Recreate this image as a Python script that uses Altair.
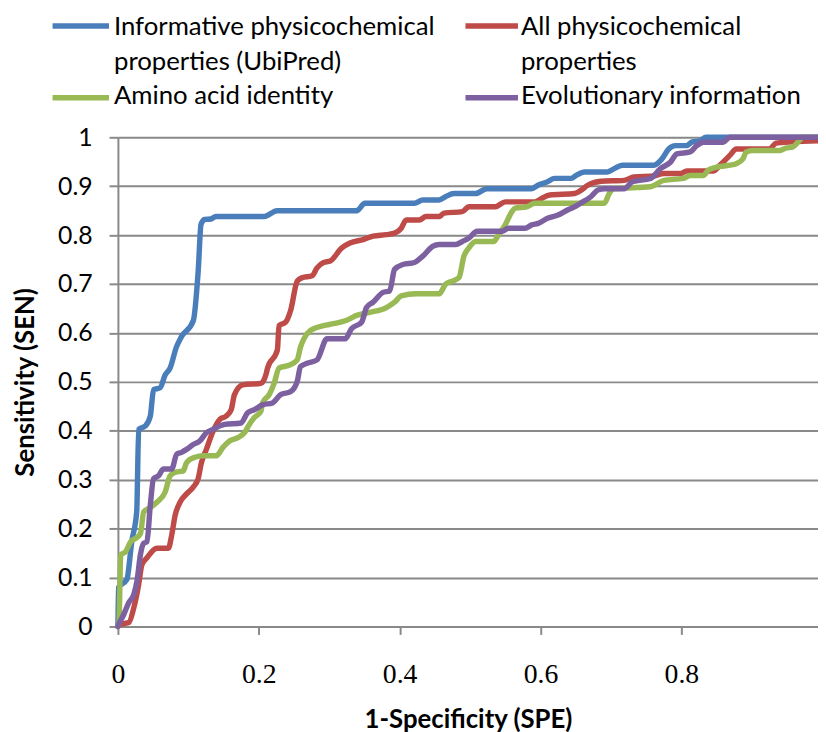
import altair as alt
import pandas as pd

# ---------------- data ----------------
series_names = [
    "Informative physicochemical properties (UbiPred)",
    "All physicochemical properties",
    "Amino acid identity",
    "Evolutionary information",
]
series_colors = ["#4A7EBB", "#BE4B48", "#98B954", "#7D60A0"]

blue_x = [0, 0.001, 0.0127, 0.0197, 0.0267, 0.0295, 0.039, 0.046, 0.0506, 0.06, 0.067, 0.074, 0.083, 0.09,
          0.107, 0.114, 0.118, 0.123, 0.132, 0.139, 0.208, 0.226, 0.339, 0.3506, 0.421, 0.4328, 0.456,
          0.4655, 0.477, 0.5077, 0.524, 0.5875, 0.5963, 0.610, 0.620, 0.6437, 0.6508, 0.6624, 0.695,
          0.7046, 0.716, 0.761, 0.7726, 0.782, 0.7914, 0.8077, 0.8148, 0.8266, 0.835, 0.994]
blue_y = [0, 0.08, 0.096, 0.174, 0.235, 0.403, 0.41, 0.43, 0.484, 0.488, 0.514, 0.528, 0.571, 0.592,
          0.625, 0.727, 0.822, 0.832, 0.833, 0.838, 0.838, 0.850, 0.850, 0.865, 0.865, 0.872, 0.872,
          0.879, 0.885, 0.885, 0.895, 0.895, 0.902, 0.909, 0.916, 0.916, 0.922, 0.929, 0.929,
          0.936, 0.943, 0.943, 0.956, 0.976, 0.983, 0.983, 0.990, 0.993, 1.0, 1.0]

red_x = [0, 0.006, 0.0155, 0.0225, 0.0295, 0.034, 0.041, 0.0553, 0.0717, 0.0764, 0.0812, 0.0882, 0.0975,
         0.1069, 0.1139, 0.1186, 0.1256, 0.135, 0.1444, 0.1537, 0.1608, 0.1655, 0.1772, 0.203, 0.21,
         0.2124, 0.2264, 0.2288, 0.2381, 0.2452, 0.2546, 0.2616, 0.2757, 0.2827, 0.2921, 0.3014, 0.3179,
         0.3295, 0.3484, 0.3624, 0.3811, 0.3928, 0.4023, 0.4093, 0.428, 0.4374, 0.4561, 0.4631, 0.489,
         0.4983, 0.5359, 0.55, 0.5921, 0.6015, 0.6132, 0.6484, 0.6578, 0.6671, 0.686, 0.7187, 0.7328,
         0.761, 0.775, 0.7984, 0.8077, 0.8453, 0.8547, 0.8688, 0.878, 0.925, 0.9343, 0.9578, 0.994]
red_y = [0, 0.005, 0.008, 0.038, 0.086, 0.126, 0.140, 0.160, 0.160, 0.187, 0.227, 0.254, 0.271,
         0.285, 0.302, 0.335, 0.362, 0.399, 0.423, 0.430, 0.443, 0.474, 0.494, 0.497, 0.514,
         0.528, 0.565, 0.615, 0.622, 0.646, 0.706, 0.713, 0.717, 0.733, 0.744, 0.747, 0.774,
         0.784, 0.791, 0.798, 0.801, 0.804, 0.814, 0.831, 0.831, 0.838, 0.838, 0.845, 0.848,
         0.858, 0.858, 0.868, 0.868, 0.875, 0.882, 0.885, 0.892, 0.902, 0.910, 0.912, 0.919,
         0.921, 0.926, 0.926, 0.931, 0.931, 0.943, 0.963, 0.976, 0.976, 0.988, 0.991, 0.993]

green_x = [0, 0.0014, 0.004, 0.011, 0.018, 0.025, 0.032, 0.0366, 0.0436, 0.0553, 0.0671, 0.0741, 0.0812,
           0.0928, 0.0975, 0.1093, 0.121, 0.1397, 0.1491, 0.1585, 0.1702, 0.1796, 0.1866, 0.1937, 0.203,
           0.2053, 0.2148, 0.2218, 0.2288, 0.2429, 0.2546, 0.2592, 0.264, 0.2733, 0.2921, 0.3062, 0.3249,
           0.339, 0.3577, 0.3811, 0.3928, 0.4023, 0.4233, 0.4561, 0.4655, 0.475, 0.4842, 0.4913, 0.4983,
           0.5077, 0.5335, 0.5405, 0.5499, 0.5594, 0.564, 0.5804, 0.5921, 0.6906, 0.6976, 0.7046, 0.7563,
           0.775, 0.8031, 0.8125, 0.8312, 0.8383, 0.85, 0.8688, 0.878, 0.8875, 0.8921, 0.9015, 0.939,
           0.9484, 0.9578, 0.9672, 0.9719, 0.994]
green_y = [0, 0.005, 0.146, 0.153, 0.173, 0.180, 0.190, 0.234, 0.241, 0.254, 0.275, 0.308, 0.315,
           0.318, 0.335, 0.346, 0.349, 0.349, 0.366, 0.379, 0.386, 0.396, 0.413, 0.427, 0.440,
           0.457, 0.474, 0.497, 0.528, 0.534, 0.545, 0.571, 0.588, 0.605, 0.615, 0.619, 0.626,
           0.636, 0.642, 0.652, 0.663, 0.676, 0.680, 0.680, 0.700, 0.706, 0.713, 0.757, 0.774,
           0.787, 0.787, 0.801, 0.821, 0.848, 0.855, 0.858, 0.865, 0.865, 0.885, 0.895, 0.899,
           0.912, 0.916, 0.922, 0.922, 0.933, 0.939, 0.943, 0.946, 0.956, 0.970, 0.973, 0.973,
           0.978, 0.980, 0.993, 1.0, 1.0]

purple_x = [0, 0.0014, 0.0084, 0.0155, 0.0225, 0.0271, 0.0319, 0.0366, 0.0412, 0.046, 0.0506, 0.0577,
            0.0647, 0.0764, 0.0834, 0.0904, 0.0975, 0.1069, 0.1163, 0.1256, 0.135, 0.1515, 0.1748, 0.1842,
            0.1937, 0.2053, 0.2194, 0.2311, 0.2452, 0.2546, 0.2592, 0.2686, 0.2827, 0.2968, 0.3225, 0.3319,
            0.346, 0.353, 0.3624, 0.3765, 0.3858, 0.3928, 0.4046, 0.421, 0.4328, 0.4468, 0.4561, 0.4796,
            0.489, 0.4983, 0.5101, 0.5453, 0.5546, 0.578, 0.5875, 0.5968, 0.6108, 0.6249, 0.639, 0.6484,
            0.6578, 0.6719, 0.6811, 0.6906, 0.7187, 0.7304, 0.7563, 0.7703, 0.7844, 0.7937, 0.8125, 0.8218,
            0.8312, 0.8594, 0.8688, 0.994]
purple_y = [0, 0.005, 0.025, 0.049, 0.065, 0.093, 0.146, 0.170, 0.173, 0.248, 0.302, 0.308,
            0.322, 0.322, 0.352, 0.356, 0.362, 0.372, 0.379, 0.396, 0.403, 0.413, 0.416, 0.437,
            0.443, 0.453, 0.457, 0.474, 0.480, 0.501, 0.531, 0.538, 0.545, 0.588, 0.588, 0.609,
            0.622, 0.652, 0.663, 0.683, 0.686, 0.730, 0.740, 0.744, 0.757, 0.777, 0.781, 0.781,
            0.787, 0.794, 0.808, 0.808, 0.814, 0.814, 0.821, 0.824, 0.835, 0.841, 0.852, 0.858,
            0.866, 0.879, 0.892, 0.895, 0.895, 0.909, 0.916, 0.936, 0.949, 0.966, 0.970, 0.983,
            0.990, 0.990, 1.0, 1.0]

x_ticks = [0, 0.2, 0.4, 0.6, 0.8]
y_ticks = [0, 0.1, 0.2, 0.3, 0.4, 0.5, 0.6, 0.7, 0.8, 0.9, 1.0]
x_title = "1-Specificity (SPE)"
y_title = "Sensitivity (SEN)"
legend_text = [["Informative physicochemical", "properties (UbiPred)"],
               ["All physicochemical", "properties"],
               ["Amino acid identity"],
               ["Evolutionary information"]]

# ---------------- layout (pixels, relative to plot origin) ----------------
W, H = 707, 494
X_MAX = 0.994
GRAY = "#898989"
SANS = "Lato"
SERIF = "Liberation Serif"

leg_sym_x = [(-66, -9), (351, 404), (-66, -9), (351, 404)]
leg_sym_y = [-112.3, -112.3, -40, -40]
leg_text_x = [-4, 407, -4, 407]
leg_text_y0 = [-103.3, -103.3, -33.5, -33.5]
leg_line_h = 35

# ---------------- build tables ----------------
all_xy = [(blue_x, blue_y), (red_x, red_y), (green_x, green_y), (purple_x, purple_y)]
frames = []
for name, (xs, ys) in zip(series_names, all_xy):
    frames.append(pd.DataFrame({"series": name, "x": xs, "y": ys, "i": range(len(xs))}))

sym_df = pd.DataFrame({
    "series": series_names,
    "x1": [a for a, b in leg_sym_x],
    "x2": [b for a, b in leg_sym_x],
    "y": leg_sym_y,
})
rows = []
for k, lines in enumerate(legend_text):
    for j, t in enumerate(lines):
        rows.append({"text": t, "x": leg_text_x[k], "y": leg_text_y0[k] + j * leg_line_h})
txt_df = pd.DataFrame(rows)

xscale = alt.Scale(domain=[0, X_MAX], nice=False, zero=False)
yscale = alt.Scale(domain=[0, 1], nice=False)

x_axis = alt.Axis(values=x_ticks, format=".1~f", grid=False, domain=True, domainColor=GRAY,
                  domainWidth=2, ticks=True, tickSize=8, tickColor=GRAY, tickWidth=2,
                  labelFont=SERIF, labelFontSize=28, labelColor="black", labelBaseline="alphabetic",
                  labelPadding=49, labelFlush=False, title=x_title, titleFont=SANS, titleFontSize=26,
                  titleFontWeight="bold", titleColor="black", titleX=W / 2, titleY=94,
                  titleBaseline="middle", titleAlign="center")
y_axis = alt.Axis(values=y_ticks, format=".1~f", grid=True, gridColor=GRAY, gridWidth=2,
                  domain=True, domainColor=GRAY, domainWidth=2, ticks=True, tickSize=9,
                  tickColor=GRAY, tickWidth=2, labelFont=SANS, labelFontSize=25, labelColor="black",
                  labelPadding=17, labelFlush=False, title=y_title, titleFont=SANS, titleFontSize=26,
                  titleFontWeight="bold", titleColor="black", titleX=-93, titleY=H / 2,
                  titleAngle=-90, titleBaseline="middle", titleAlign="center")

layers = []
for k, (name, color) in enumerate(zip(series_names, series_colors)):
    layers.append(
        alt.Chart(frames[k]).mark_line(color=color, strokeWidth=5.5, interpolate="monotone",
                                       strokeCap="round", strokeJoin="round").encode(
            x=alt.X("x:Q", scale=xscale, axis=x_axis),
            y=alt.Y("y:Q", scale=yscale, axis=y_axis),
            order="i:Q",
        )
    )

plot = alt.layer(*layers)

legend_syms = alt.Chart(sym_df).mark_rule(strokeWidth=5.5, strokeCap="butt").encode(
    x=alt.X("x1:Q", scale=None, axis=None),
    x2="x2:Q",
    y=alt.Y("y:Q", scale=None, axis=None),
    color=alt.Color("series:N", scale=alt.Scale(domain=series_names, range=series_colors), legend=None),
)
legend_txt = alt.Chart(txt_df).mark_text(font=SANS, fontSize=26, align="left", baseline="alphabetic",
                                         color="black").encode(
    x=alt.X("x:Q", scale=None, axis=None),
    y=alt.Y("y:Q", scale=None, axis=None),
    text="text:N",
)

chart = alt.layer(plot, legend_syms, legend_txt).resolve_scale(
    x="independent", y="independent", color="independent"
).properties(
    width=W, height=H,
    autosize=alt.AutoSizeParams(type="none"),
    padding={"left": 111, "top": 127, "right": 0, "bottom": 103},
    background="white",
).configure_view(stroke=None)

chart.save("out.html", embed_options={"renderer": "svg", "actions": False})
